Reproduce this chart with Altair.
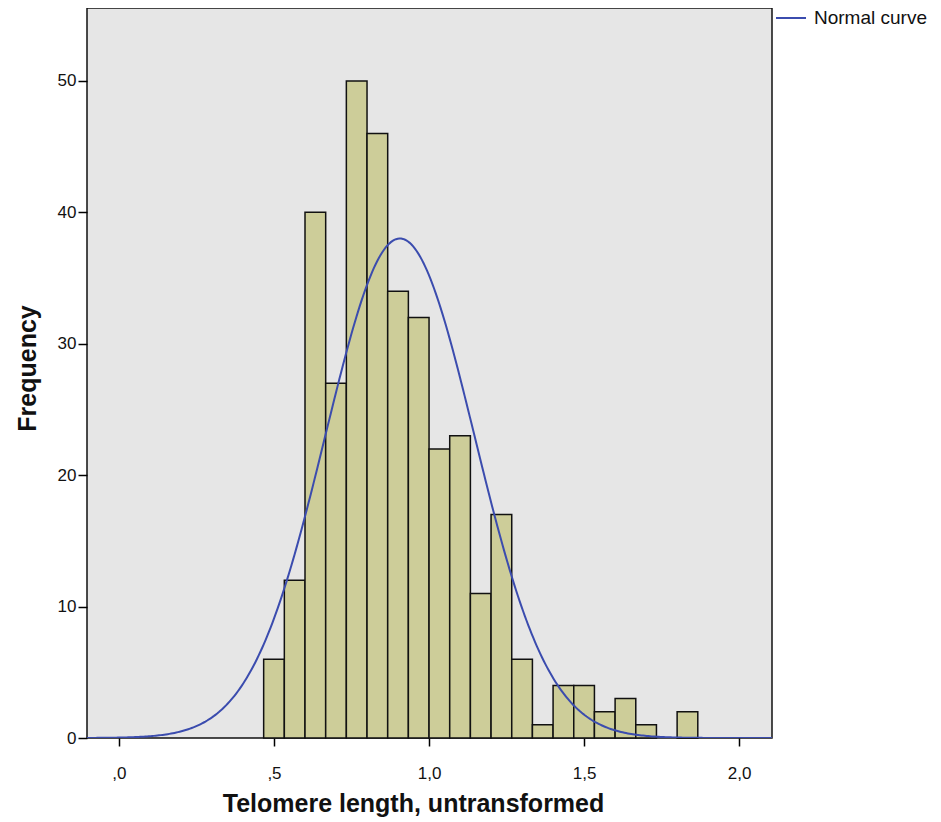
import altair as alt
import numpy as np
import pandas as pd

# Histogram bins (left edges, width 1/15) and counts
bin_start = 0.4667
bin_width = 1.0 / 15.0
counts = [6, 12, 40, 27, 50, 46, 34, 32, 22, 23, 11, 17, 6, 1, 4, 4, 2, 3, 1, 0, 2]

# Normal curve parameters (estimated)
curve_mean = 0.906
curve_sd = 0.240
n_total = sum(counts)

x_ticks = [0.0, 0.5, 1.0, 1.5, 2.0]
y_ticks = [0, 10, 20, 30, 40, 50]
x_domain = [-0.103, 2.106]
y_domain = [0, 55.55]

bars = pd.DataFrame({
    "x0": [bin_start + i * bin_width for i in range(len(counts))],
    "x1": [bin_start + (i + 1) * bin_width for i in range(len(counts))],
    "count": counts,
})
bars = bars[bars["count"] > 0]

xs = np.linspace(x_domain[0], x_domain[1], 400)
ys = n_total * bin_width / (curve_sd * np.sqrt(2 * np.pi)) * np.exp(-0.5 * ((xs - curve_mean) / curve_sd) ** 2)
curve = pd.DataFrame({"x": xs, "y": ys, "series": "Normal curve"})

FONT = "Liberation Sans"

xscale = alt.Scale(domain=x_domain, nice=False, zero=False)
yscale = alt.Scale(domain=y_domain, nice=False)

xaxis = alt.Axis(
    title="Telomere length, untransformed",
    values=x_ticks,
    labelExpr="datum.value == 0 ? ',0' : (datum.value < 1 ? ',5' : replace(format(datum.value, '.1f'), '.', ','))",
    grid=False, domain=False, tickColor="black", tickSize=8, tickWidth=1.5,
    labelFont=FONT, labelFontSize=17, labelColor="#111", labelPadding=19,
    titleFont=FONT, titleFontSize=25, titleFontWeight="bold", titleColor="#111",
    titleX=326, titleY=65, titleBaseline="middle", titleAlign="center",
)
yaxis = alt.Axis(
    title="Frequency",
    values=y_ticks,
    grid=False, domain=False, tickColor="black", tickSize=9, tickWidth=1.5,
    labelFont=FONT, labelFontSize=17, labelColor="#111", labelPadding=2,
    titleFont=FONT, titleFontSize=25, titleFontWeight="bold", titleColor="#111",
    titleX=-60, titleY=360, titleAngle=270, titleBaseline="middle", titleAlign="center",
)

hist = alt.Chart(bars).mark_rect(
    fill="#cdcd99", stroke="#111", strokeWidth=1.5
).encode(
    x=alt.X("x0:Q", scale=xscale, axis=xaxis),
    x2="x1:Q",
    y=alt.Y("count:Q", scale=yscale, axis=yaxis),
    y2=alt.datum(0),
)

line = alt.Chart(curve).mark_line(strokeWidth=2, clip=True).encode(
    x=alt.X("x:Q", scale=xscale),
    y=alt.Y("y:Q", scale=yscale),
    color=alt.Color(
        "series:N",
        scale=alt.Scale(domain=["Normal curve"], range=["#3b4cae"]),
        legend=alt.Legend(
            title=None, orient="none", legendX=688, legendY=-6,
            symbolType="stroke", symbolSize=900, symbolStrokeWidth=2,
            labelFont=FONT, labelFontSize=19, labelColor="#111", labelOffset=7,
            padding=0,
        ),
    ),
)

chart = alt.layer(hist, line).properties(
    width=685, height=730,
    padding={"left": 79, "top": 0, "right": 160, "bottom": 84},
    autosize=alt.AutoSizeParams(type="none"),
    background="white",
).configure_view(
    fill="#e6e6e6", stroke="#111", strokeWidth=1.5
)

chart.save("out.html", embed_options={"renderer": "svg", "actions": False})
